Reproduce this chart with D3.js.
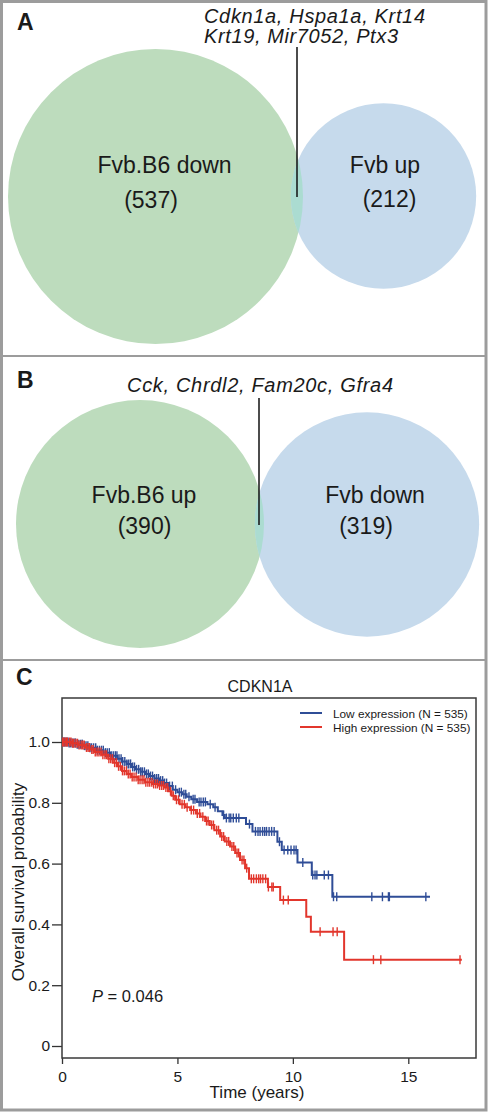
<!DOCTYPE html>
<html>
<head>
<meta charset="utf-8">
<script src="https://cdn.jsdelivr.net/npm/d3@7"></script>
<style>
  html, body { margin: 0; padding: 0; background: #fff; }
  svg { display: block; font-family: "Liberation Sans", Arial, sans-serif; }
</style>
</head>
<body>
<svg id="chart" width="488" height="1112"></svg>
<script>
// ---------------- DATA ----------------
// Panel A Venn
const vennALabels = ["Fvb.B6 down", "Fvb up"];
const vennACounts = [537, 212];
const vennAShared = ["Cdkn1a, Hspa1a, Krt14", "Krt19, Mir7052, Ptx3"];
// Panel B Venn
const vennBLabels = ["Fvb.B6 up", "Fvb down"];
const vennBCounts = [390, 319];
const vennBShared = ["Cck, Chrdl2, Fam20c, Gfra4"];

// Panel C Kaplan-Meier (CDKN1A)
const kmTitle = "CDKN1A";
const legendLabels = ["Low expression (N = 535)", "High expression (N = 535)"];
const pValueText = "0.046";
const yTicks = [0, 0.2, 0.4, 0.6, 0.8, 1.0];
const yTickLabels = ["0", "0.2", "0.4", "0.6", "0.8", "1.0"];
const xTicks = [0, 5, 10, 15];

// Low expression: step times (years) and survival after each step
const lowTimes = [0, 0.3, 0.6, 0.9, 1.2, 1.5, 1.8, 2.1, 2.4, 2.6, 2.8, 3.0, 3.2, 3.4, 3.6, 3.8, 4.0, 4.2, 4.4, 4.6, 4.8, 5.0,
  5.2, 5.4, 5.6, 5.85, 6.3, 6.55, 6.75, 6.95, 7.05, 7.97, 8.25, 9.33, 9.52, 10.2, 10.82, 11.71];
const lowSurv = [1.0, 0.997, 0.993, 0.988, 0.981, 0.973, 0.965, 0.955, 0.945, 0.936, 0.928, 0.918, 0.91, 0.902, 0.895, 0.888, 0.88, 0.873, 0.865, 0.855, 0.843, 0.835,
  0.828, 0.82, 0.812, 0.803, 0.795, 0.785, 0.772, 0.76, 0.75, 0.73, 0.706, 0.672, 0.645, 0.604, 0.5625, 0.491];
const lowEnd = 15.94;
const lowCensor = [0.04, 0.09, 0.13, 0.19, 0.26, 0.31, 0.37, 0.44, 0.52, 0.58, 0.66, 0.73, 0.81, 0.88, 0.97, 1.04, 1.12, 1.21, 1.28, 1.37, 1.46,
  1.53, 1.62, 1.71, 1.79, 1.88, 1.96, 2.05, 2.13, 2.22, 2.31, 2.38, 2.47, 2.56, 2.63, 2.72, 2.81, 2.89, 2.97, 3.06, 3.14, 3.23, 3.32,
  3.41, 3.48, 3.57, 3.66, 3.74, 3.83, 3.92, 4.01, 4.1, 4.18, 4.27, 4.36, 4.44, 4.53, 4.66, 4.78, 4.92, 5.08, 5.17, 5.28, 5.36,
  5.5, 5.68, 5.76, 5.94, 6.02, 6.12, 6.21, 6.42, 6.63, 7.0, 7.12, 7.24, 7.31, 7.42, 7.55, 7.66, 8.12, 8.38, 8.49, 8.58, 8.69, 8.78, 8.86,
  8.97, 9.08, 9.19, 9.42, 9.62, 9.78, 9.92, 10.05, 10.14, 10.43, 10.86, 10.96, 11.04, 11.36, 11.54, 11.76, 11.9, 13.42, 13.88, 14.14, 14.18, 15.76];

// High expression
const highTimes = [0, 0.4, 0.7, 1.0, 1.2, 1.4, 1.7, 2.0, 2.2, 2.4, 2.6, 2.8, 3.0, 3.3, 3.6, 3.9, 4.2, 4.45, 4.6, 4.75, 4.9, 5.1,
  5.35, 5.55, 5.8, 6.0, 6.2, 6.4, 6.6, 6.85, 7.05, 7.28, 7.5, 7.71, 7.93, 8.1, 8.92, 9.45, 10.58, 10.78, 12.22];
const highSurv = [1.0, 0.996, 0.99, 0.982, 0.975, 0.967, 0.958, 0.945, 0.932, 0.92, 0.905, 0.895, 0.885, 0.876, 0.868, 0.862, 0.857, 0.85, 0.838, 0.823, 0.81, 0.795,
  0.785, 0.776, 0.765, 0.754, 0.74, 0.727, 0.71, 0.689, 0.673, 0.656, 0.635, 0.612, 0.585, 0.55, 0.523, 0.48, 0.425, 0.376, 0.284];
const highEnd = 17.32;
const highCensor = [0.03, 0.08, 0.14, 0.2, 0.24, 0.33, 0.39, 0.46, 0.51, 0.6, 0.67, 0.74, 0.83, 0.9, 0.96, 1.06, 1.13, 1.19, 1.29, 1.35, 1.44,
  1.52, 1.6, 1.69, 1.77, 1.86, 1.93, 2.03, 2.11, 2.19, 2.28, 2.36, 2.45, 2.53, 2.62, 2.7, 2.79, 2.87, 2.95, 3.04, 3.12, 3.21, 3.3,
  3.38, 3.47, 3.55, 3.63, 3.72, 3.8, 3.89, 3.97, 4.06, 4.14, 4.23, 4.32, 4.4, 4.5, 4.58, 4.7, 4.82, 4.96, 5.05, 5.2, 5.3, 5.42,
  5.6, 5.7, 5.86, 5.96, 6.1, 6.26, 6.33, 6.48, 6.56, 6.7, 6.78, 6.92, 7.0, 7.14, 7.22, 7.36, 7.44, 7.58, 7.65, 7.8, 7.88, 8.0,
  8.2, 8.3, 8.42, 8.52, 8.6, 8.7, 8.82, 8.94, 9.09, 9.15, 9.59, 9.8, 11.18, 11.74, 11.92, 13.49, 13.81, 17.24];

// ---------------- DRAW ----------------
const svg = d3.select("#chart");
const ink = "#1a1a1a";
const frameGray = "#9c9c9c";

// outer border and separators
svg.append("rect").attr("x", 1.5).attr("y", 1.5).attr("width", 484.5).attr("height", 1108.5)
  .attr("fill", "none").attr("stroke", frameGray).attr("stroke-width", 3);
[356, 660].forEach(y => svg.append("line").attr("x1", 1).attr("x2", 486).attr("y1", y).attr("y2", y)
  .attr("stroke", frameGray).attr("stroke-width", 2));

// panel letters
[["A", 17, 30], ["B", 17, 388], ["C", 16, 685]].forEach(([t, x, y]) =>
  svg.append("text").attr("x", x).attr("y", y).text(t).attr("font-size", 23).attr("font-weight", "bold").attr("fill", ink));

const greenFill = "#bddcbd", blueFill = "#c6daec", overlapFill = "#abdcd1";

function venn(id, counts, labels, maxR, cxs, cy, labelPos, countPos) {
  const r = d3.scaleSqrt().domain([0, counts[0]]).range([0, maxR]);
  const g = svg.append("g");
  const circles = counts.map((c, i) => ({ cx: cxs[i], cy: cy[i], r: r(c) }));
  g.append("circle").attr("cx", circles[0].cx).attr("cy", circles[0].cy).attr("r", circles[0].r).attr("fill", greenFill);
  g.append("circle").attr("cx", circles[1].cx).attr("cy", circles[1].cy).attr("r", circles[1].r).attr("fill", blueFill);
  svg.append("clipPath").attr("id", id).append("circle")
    .attr("cx", circles[0].cx).attr("cy", circles[0].cy).attr("r", circles[0].r);
  g.append("circle").attr("cx", circles[1].cx).attr("cy", circles[1].cy).attr("r", circles[1].r)
    .attr("fill", overlapFill).attr("clip-path", `url(#${id})`);
  labels.forEach((l, i) => {
    g.append("text").attr("x", labelPos[i][0]).attr("y", labelPos[i][1]).attr("text-anchor", "middle")
      .attr("font-size", 23).attr("fill", ink).text(l);
    g.append("text").attr("x", countPos[i][0]).attr("y", countPos[i][1]).attr("text-anchor", "middle")
      .attr("font-size", 23).attr("fill", ink).text(`(${counts[i]})`);
  });
  return g;
}

venn("clipA", vennACounts, vennALabels, 147.5, [155.5, 383.5], [196.5, 196],
  [[164.5, 173], [385, 173]], [[151, 208], [389.5, 207]]);
svg.append("line").attr("x1", 297).attr("x2", 297).attr("y1", 47).attr("y2", 197).attr("stroke", "#111").attr("stroke-width", 1.5);
const aLens = [221, 194];
vennAShared.forEach((s, i) => svg.append("text").attr("x", 204).attr("y", 22.5 + i * 20)
  .attr("font-size", 20).attr("font-style", "italic").attr("fill", ink)
  .attr("textLength", aLens[i]).attr("lengthAdjust", "spacing").text(s));

venn("clipB", vennBCounts, vennBLabels, 124, [140, 367], [524, 524.5],
  [[144, 503], [375, 503]], [[144.5, 534], [366, 534]]);
svg.append("line").attr("x1", 259).attr("x2", 259).attr("y1", 398).attr("y2", 525).attr("stroke", "#111").attr("stroke-width", 1.5);
vennBShared.forEach((s, i) => svg.append("text").attr("x", 127).attr("y", 391.7)
  .attr("font-size", 20).attr("font-style", "italic").attr("fill", ink)
  .attr("textLength", 266).attr("lengthAdjust", "spacing").text(s));

// ---------- Panel C ----------
const plot = { left: 62, right: 476, top: 698, bottom: 1058 };
const x = d3.scaleLinear().domain([0, 15]).range([62, 408.3]);
const y = d3.scaleLinear().domain([0, 1]).range([1046, 742]);

svg.append("text").attr("x", 260).attr("y", 692).attr("text-anchor", "middle")
  .attr("font-size", 16).attr("fill", ink).text(kmTitle);

const yAxis = d3.axisLeft(y).tickValues(yTicks).tickSize(10).tickPadding(2)
  .tickFormat((d, i) => yTickLabels[i]);
const gy = svg.append("g").attr("transform", `translate(${plot.left},0)`).call(yAxis);
gy.select(".domain").remove();
gy.selectAll("line").attr("stroke", "#333").attr("stroke-width", 1.3);
gy.selectAll("text").attr("font-size", 15.5).attr("fill", ink).attr("font-family", "Liberation Sans, Arial, sans-serif");

const xAxis = d3.axisBottom(x).tickValues(xTicks).tickSize(6).tickPadding(7);
const gx = svg.append("g").attr("transform", `translate(0,${plot.bottom})`).call(xAxis);
gx.select(".domain").remove();
gx.selectAll("line").attr("stroke", "#333").attr("stroke-width", 1.3);
gx.selectAll("text").attr("font-size", 15.5).attr("fill", ink).attr("font-family", "Liberation Sans, Arial, sans-serif");

svg.append("rect").attr("x", plot.left).attr("y", plot.top)
  .attr("width", plot.right - plot.left).attr("height", plot.bottom - plot.top)
  .attr("fill", "none").attr("stroke", "#3a3a3a").attr("stroke-width", 1.5);

svg.append("text").attr("x", 257).attr("y", 1098).attr("text-anchor", "middle")
  .attr("font-size", 17).attr("fill", ink).text("Time (years)");
svg.append("text").attr("transform", "translate(23.5,882) rotate(-90)").attr("text-anchor", "middle")
  .attr("font-size", 17).attr("fill", ink).text("Overall survival probability");

const pText = svg.append("text").attr("x", 92).attr("y", 1001.5).attr("font-size", 16.5).attr("fill", ink);
pText.append("tspan").attr("font-style", "italic").text("P");
pText.append("tspan").text(` = ${pValueText}`);

const blue = "#2f4d97", red = "#e2362c";
const line = d3.line().x(d => x(d[0])).y(d => y(d[1])).curve(d3.curveStepAfter);

function drawKM(times, surv, end, censor, color) {
  const pts = times.map((t, i) => [t, surv[i]]);
  pts.push([end, surv[surv.length - 1]]);
  svg.append("path").datum(pts).attr("d", line).attr("fill", "none")
    .attr("stroke", color).attr("stroke-width", 2);
  const bis = d3.bisector(d => d).right;
  svg.append("g").selectAll("line").data(censor).join("line")
    .attr("x1", d => x(d)).attr("x2", d => x(d))
    .attr("y1", d => y(surv[Math.max(0, bis(times, d) - 1)]) - 4.5)
    .attr("y2", d => y(surv[Math.max(0, bis(times, d) - 1)]) + 4.5)
    .attr("stroke", color).attr("stroke-width", 1.4);
}
drawKM(lowTimes, lowSurv, lowEnd, lowCensor, blue);
drawKM(highTimes, highSurv, highEnd, highCensor, red);

// legend
[[blue, 713], [red, 727]].forEach(([c, ly], i) => {
  svg.append("line").attr("x1", 300).attr("x2", 322).attr("y1", ly).attr("y2", ly)
    .attr("stroke", c).attr("stroke-width", 2);
  svg.append("text").attr("x", 333).attr("y", ly + 4.5).attr("font-size", 11.8).attr("fill", ink).text(legendLabels[i]);
});
</script>
</body>
</html>
